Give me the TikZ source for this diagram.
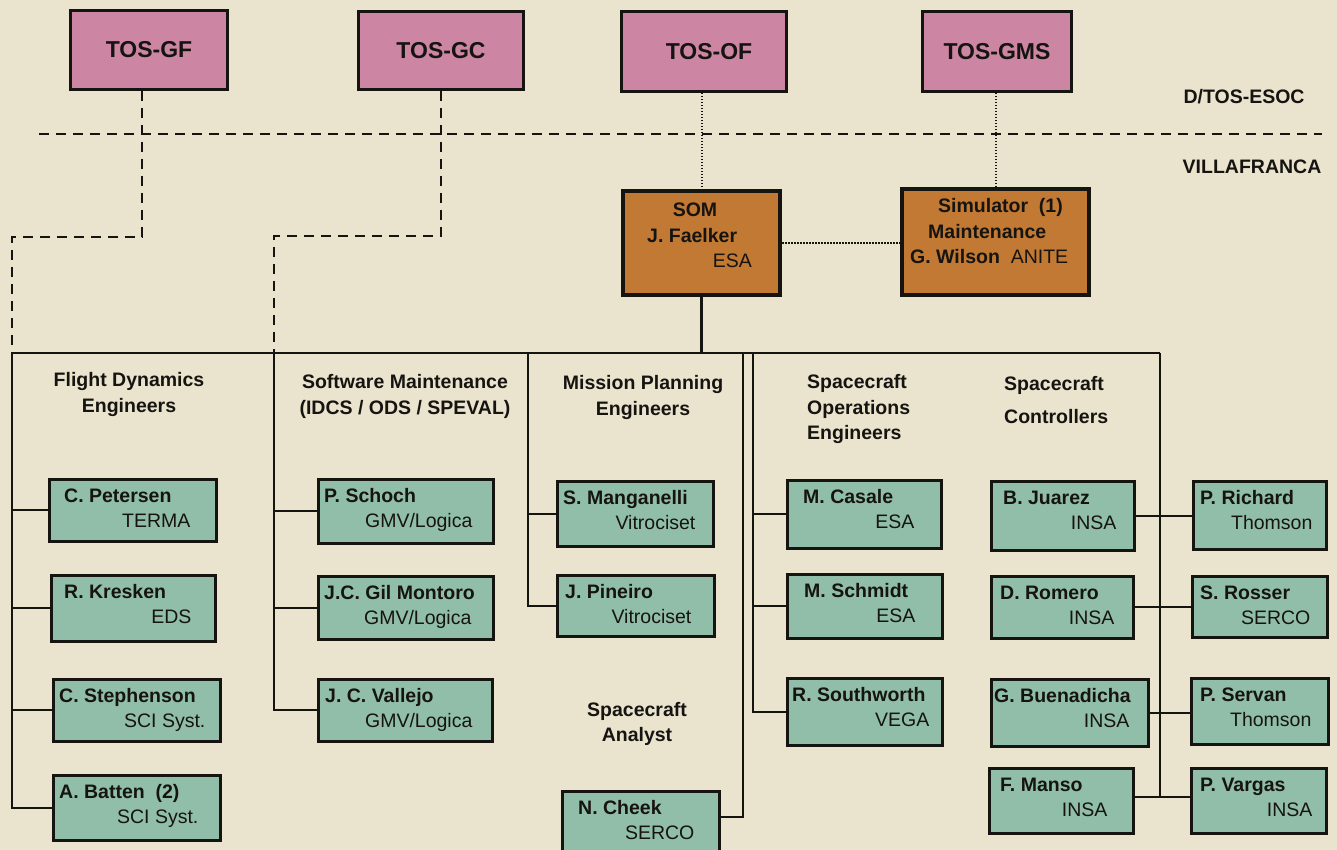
\documentclass[tikz,border=0pt]{standalone}
\usepackage{fontspec}
\setmainfont{Liberation Sans}
\definecolor{bgc}{RGB}{234,228,206}
\definecolor{pinkc}{RGB}{204,133,163}
\definecolor{brownc}{RGB}{193,121,52}
\definecolor{greenc}{RGB}{145,190,168}
\definecolor{inkc}{RGB}{22,20,17}
\tikzset{
  pinkbox/.style={draw=inkc, line width=3pt, fill=pinkc, inner sep=0pt, anchor=north west, font=\fontsize{23}{27}\selectfont\bfseries, text=inkc},
  brownbox/.style={draw=inkc, line width=4pt, fill=brownc, inner sep=0pt, anchor=north west},
  gbox/.style={draw=inkc, line width=2.6pt, fill=greenc, inner sep=0pt, anchor=north west},
  txt/.style={inner sep=0pt, font=\fontsize{19.5}{25.5}\selectfont\bfseries, text=inkc},
  rtxt/.style={inner sep=0pt, font=\fontsize{19.5}{25.5}\selectfont, text=inkc},
  conn/.style={draw=inkc, line width=2.2pt},
  dsh/.style={draw=inkc, line width=2.7pt, dash pattern=on 10pt off 7pt},
  dtt/.style={draw=inkc, line width=2pt, dash pattern=on 1.5pt off 1.5pt}
}
\newcommand\person[9]{%
  \node[gbox, minimum width=#4pt, minimum height=#5pt] (#1) at (#2,#3) {};
  \node[txt, anchor=base west] (#1n) at ([xshift=#8pt,yshift=-24pt]#1.north west) {#6};
  \node[rtxt, anchor=base east] (#1c) at ([xshift=-#9pt,yshift=-49pt]#1.north east) {#7};
}
\begin{document}
\begin{tikzpicture}[x=1pt,y=-1pt]
\fill[bgc] (0,0) rectangle (1337,850);
\useasboundingbox (0,0) rectangle (1337,850);

% top boxes
\node[pinkbox, minimum width=157pt, minimum height=79pt] (gf) at (69,9) {TOS-GF};
\node[pinkbox, minimum width=165pt, minimum height=78pt] (gc) at (357,10) {TOS-GC};
\node[pinkbox, minimum width=165pt, minimum height=80pt] (of) at (620,10) {\hspace{10pt}TOS-OF};
\node[pinkbox, minimum width=149pt, minimum height=80pt] (gms) at (921,10) {TOS-GMS};

% region labels
\node[txt] (esoc) at (1244,97) {D/TOS-ESOC};
\node[txt] (villa) at (1252,167) {VILLAFRANCA};
\coordinate (divL) at (39,134);
\coordinate (divR) at (1322,134);
\draw[dsh] (divL) -- (divR);

% SOM and simulator
\node[brownbox, minimum width=157pt, minimum height=104pt] (som) at (621,189) {};
\node[txt] (somt) at (695,210) {SOM};
\node[txt, anchor=west] (somn) at (647,236) {J. Faelker};
\node[rtxt, anchor=east] (soma) at (752,261) {ESA};
\node[brownbox, minimum width=187pt, minimum height=106pt] (sim) at (900,187) {};
\node[txt, anchor=west] (sim1) at (938,207) {Simulator\ \ (1)};
\node[txt, anchor=west] (sim2) at (928,232) {Maintenance};
\node[rtxt, anchor=west] (sim3) at (910,257) {\bfseries G. Wilson\ \ \mdseries ANITE};

\draw[dtt] (som.north |- of.south) -- (som.north);
\draw[dtt] (sim.north |- gms.south) -- (sim.north);
\draw[dtt] (som.east) -- (som.east -| sim.west);

% headers
\node[txt, align=center] (fdh) at (129,394.5) {Flight Dynamics\\Engineers};
\node[txt, align=center] (swh) at (405,396.5) {Software Maintenance\\(IDCS / ODS / SPEVAL)};
\node[txt, align=center] (mph) at (643,397.5) {Mission Planning\\Engineers};
\node[txt, align=left, anchor=west] (oph) at (807,409) {Spacecraft\\Operations\\Engineers};
\node[txt, align=left, anchor=west] (cth) at (1004,400) {Spacecraft\\[8pt]Controllers};
\node[txt, align=center] (anh) at (637,724) {Spacecraft\\Analyst};

% persons
\person{pet}{48}{478}{167}{62}{C. Petersen}{TERMA}{16}{27}
\person{kre}{50}{574}{164}{66}{R. Kresken}{EDS}{14}{25}
\person{ste}{52}{678}{167}{62}{C. Stephenson}{SCI Syst.}{7}{16}
\person{bat}{52}{774}{167}{65}{A. Batten\ \ (2)}{SCI Syst.}{7}{23}
\person{sch}{317}{478}{175}{64}{P. Schoch}{GMV/Logica}{7}{22}
\person{gil}{317}{575}{175}{63}{J.C. Gil Montoro}{GMV/Logica}{7}{23}
\person{val}{317}{678}{174}{62}{J. C. Vallejo}{GMV/Logica}{8}{21}
\person{man}{556}{480}{156}{65}{S. Manganelli}{Vitrociset}{7}{19}
\person{pin}{556}{574}{157}{61}{J. Pineiro}{Vitrociset}{9}{24}
\person{che}{561}{790}{157}{66}{N. Cheek}{SERCO}{17}{26}
\person{cas}{786}{479}{154}{68}{M. Casale}{ESA}{17}{28}
\person{smi}{786}{573}{155}{64}{M. Schmidt}{ESA}{18}{28}
\person{sou}{786}{677}{155}{67}{R. Southworth}{VEGA}{6}{14}
\person{jua}{990}{480}{143}{69}{B. Juarez}{INSA}{13}{19}
\person{rom}{990}{575}{142}{62}{D. Romero}{INSA}{10}{20}
\person{bue}{990}{678}{157}{67}{G. Buenadicha}{INSA}{4}{20}
\person{mns}{988}{767}{144}{65}{F. Manso}{INSA}{12}{27}
\person{ric}{1192}{480}{133}{68}{P. Richard}{Thomson}{8}{15}
\person{ros}{1191}{575}{135}{61}{S. Rosser}{SERCO}{9}{18}
\person{ser}{1190}{677}{137}{66}{P. Servan}{Thomson}{10}{18}
\person{var}{1190}{767}{135}{65}{P. Vargas}{INSA}{10}{15}

% bus
\coordinate (busL) at (12,353);
\coordinate (busSW) at (274,353);
\coordinate (busMP) at (528,353);
\coordinate (busCH) at (743,353);
\coordinate (busOP) at (753,353);
\coordinate (busR) at (1160,353);
\draw[conn] (busL) -- (busR);
\draw[conn] (som.south) -- (som.south |- busL);

% flight dynamics
\draw[conn] (busL) |- (bat.west);
\draw[conn] (pet.west) -- (pet.west -| busL);
\draw[conn] (kre.west) -- (kre.west -| busL);
\draw[conn] (ste.west) -- (ste.west -| busL);
% software
\draw[conn] (busSW) |- (val.west);
\draw[conn] (sch.west) -- (sch.west -| busSW);
\draw[conn] (gil.west) -- (gil.west -| busSW);
% mission planning
\draw[conn] (busMP) |- (pin.west);
\draw[conn] (man.west) -- (man.west -| busMP);
% analyst
\coordinate (chk) at (743,817);
\draw[conn] (busCH) -- (chk) -- (chk -| che.east);
% operations
\draw[conn] (busOP) |- (sou.west);
\draw[conn] (cas.west) -- (cas.west -| busOP);
\draw[conn] (smi.west) -- (smi.west -| busOP);
% controllers
\coordinate (ctrlB) at (1160,797);
\draw[conn] (busR) -- (ctrlB);
\draw[conn] (jua.east) -- (jua.east -| ric.west);
\draw[conn] (rom.east) -- (rom.east -| ros.west);
\draw[conn] (bue.east) -- (bue.east -| ser.west);
\draw[conn] (mns.east |- ctrlB) -- (ctrlB -| var.west);

% dashed links from TOS-GF and TOS-GC
\coordinate (gfk) at (12,237);
\coordinate (gck) at (274,236);
\draw[dsh] ([xshift=-7pt]gf.south) |- (gfk) -- (busL);
\draw[dsh] (gc.south) |- (gck) -- (busSW);
\end{tikzpicture}
\end{document}
